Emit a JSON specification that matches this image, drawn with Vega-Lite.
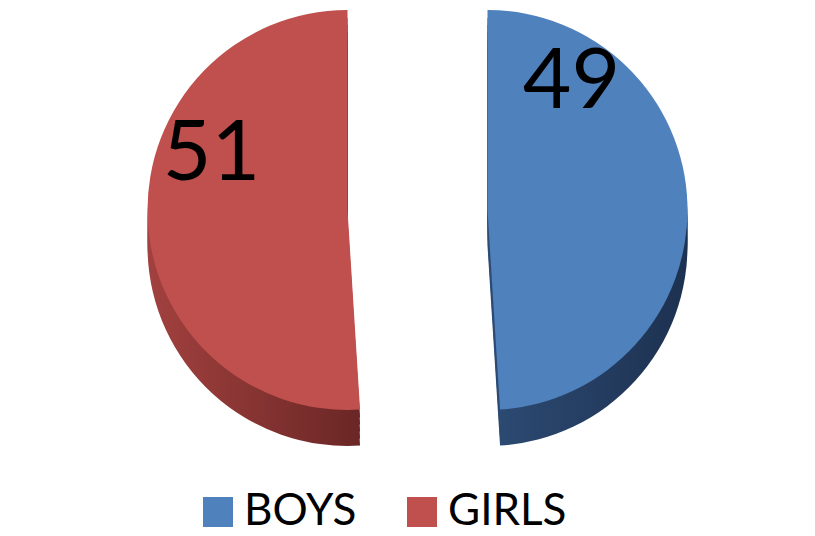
{
  "$schema": "https://vega.github.io/schema/vega-lite/v6.json",
  "width": 815,
  "height": 420,
  "autosize": "none",
  "padding": {"left": 0, "top": 0, "right": 0, "bottom": 116},
  "background": "white",
  "config": {"view": {"stroke": null}, "font": "Lato"},
  "data": {"values": [{"gender": "BOYS", "value": 49}, {"gender": "GIRLS", "value": 51}]},
  "transform": [{"stack": "value", "groupby": [], "sort": [{"field": "gender", "order": "ascending"}], "as": ["v0", "v1"]}],
  "layer": [
    {"mark": {"type": "arc", "outerRadius": 200, "yOffset": 36, "xOffset": {"expr": "datum.gender === 'BOYS' ? 80 : -60"}, "color": {"expr": "datum.gender === 'BOYS' ? {gradient: 'linear', x1: 0, y1: 0, x2: 1, y2: 0, stops: [{offset: 0, color: '#2D4B74'}, {offset: 1, color: '#1D3150'}]} : {gradient: 'linear', x1: 0, y1: 0, x2: 1, y2: 0, stops: [{offset: 0, color: '#A2413F'}, {offset: 1, color: '#6A2725'}]}"}},
     "encoding": {"theta": {"field": "v0", "type": "quantitative", "scale": {"domain": [0, 100]}}, "theta2": {"field": "v1"}}},
    {"mark": {"type": "arc", "outerRadius": 200, "yOffset": 29, "xOffset": {"expr": "datum.gender === 'BOYS' ? 80 : -60"}, "color": {"expr": "datum.gender === 'BOYS' ? {gradient: 'linear', x1: 0, y1: 0, x2: 1, y2: 0, stops: [{offset: 0, color: '#2D4B74'}, {offset: 1, color: '#1D3150'}]} : {gradient: 'linear', x1: 0, y1: 0, x2: 1, y2: 0, stops: [{offset: 0, color: '#A2413F'}, {offset: 1, color: '#6A2725'}]}"}},
     "encoding": {"theta": {"field": "v0", "type": "quantitative", "scale": {"domain": [0, 100]}}, "theta2": {"field": "v1"}}},
    {"mark": {"type": "arc", "outerRadius": 200, "yOffset": 22, "xOffset": {"expr": "datum.gender === 'BOYS' ? 80 : -60"}, "color": {"expr": "datum.gender === 'BOYS' ? {gradient: 'linear', x1: 0, y1: 0, x2: 1, y2: 0, stops: [{offset: 0, color: '#2D4B74'}, {offset: 1, color: '#1D3150'}]} : {gradient: 'linear', x1: 0, y1: 0, x2: 1, y2: 0, stops: [{offset: 0, color: '#A2413F'}, {offset: 1, color: '#6A2725'}]}"}},
     "encoding": {"theta": {"field": "v0", "type": "quantitative", "scale": {"domain": [0, 100]}}, "theta2": {"field": "v1"}}},
    {"mark": {"type": "arc", "outerRadius": 200, "yOffset": 15, "xOffset": {"expr": "datum.gender === 'BOYS' ? 80 : -60"}, "color": {"expr": "datum.gender === 'BOYS' ? {gradient: 'linear', x1: 0, y1: 0, x2: 1, y2: 0, stops: [{offset: 0, color: '#2D4B74'}, {offset: 1, color: '#1D3150'}]} : {gradient: 'linear', x1: 0, y1: 0, x2: 1, y2: 0, stops: [{offset: 0, color: '#A2413F'}, {offset: 1, color: '#6A2725'}]}"}},
     "encoding": {"theta": {"field": "v0", "type": "quantitative", "scale": {"domain": [0, 100]}}, "theta2": {"field": "v1"}}},
    {"mark": {"type": "arc", "outerRadius": 200, "yOffset": 8, "xOffset": {"expr": "datum.gender === 'BOYS' ? 80 : -60"}, "color": {"expr": "datum.gender === 'BOYS' ? {gradient: 'linear', x1: 0, y1: 0, x2: 1, y2: 0, stops: [{offset: 0, color: '#2D4B74'}, {offset: 1, color: '#1D3150'}]} : {gradient: 'linear', x1: 0, y1: 0, x2: 1, y2: 0, stops: [{offset: 0, color: '#A2413F'}, {offset: 1, color: '#6A2725'}]}"}},
     "encoding": {"theta": {"field": "v0", "type": "quantitative", "scale": {"domain": [0, 100]}}, "theta2": {"field": "v1"}}},
    {"mark": {"type": "arc", "outerRadius": 200, "xOffset": {"expr": "datum.gender === 'BOYS' ? 80 : -60"}},
     "encoding": {
       "theta": {"field": "v0", "type": "quantitative", "scale": {"domain": [0, 100]}},
       "theta2": {"field": "v1"},
       "color": {"field": "gender", "type": "nominal", "scale": {"domain": ["BOYS", "GIRLS"], "range": ["#4F81BD", "#C0504D"]},
         "legend": {"orient": "none", "legendX": 196, "legendY": 490, "direction": "horizontal", "title": null,
           "symbolType": "square", "symbolSize": 900, "symbolStrokeWidth": 0, "symbolOpacity": 1,
           "labelFont": "Lato", "labelFontSize": 44, "labelColor": "#000000", "labelOffset": 4, "labelLimit": 0,
           "columnPadding": 43, "padding": 0}}}},
    {"transform": [{"filter": "datum.gender === 'BOYS'"}],
     "mark": {"type": "text", "radius": 127, "xOffset": 80, "dx": 84, "align": "center", "baseline": "middle", "font": "Lato", "fontSize": 84, "color": "#000000"},
     "encoding": {"theta": {"field": "v0", "type": "quantitative", "scale": {"domain": [0, 100]}}, "text": {"field": "value", "type": "quantitative"}}},
    {"transform": [{"filter": "datum.gender === 'GIRLS'"}],
     "mark": {"type": "text", "radius": 55, "xOffset": -60, "dx": -136, "align": "center", "baseline": "middle", "font": "Lato", "fontSize": 84, "color": "#000000"},
     "encoding": {"theta": {"field": "v1", "type": "quantitative", "scale": {"domain": [0, 100]}}, "text": {"field": "value", "type": "quantitative"}}}
  ]
}
